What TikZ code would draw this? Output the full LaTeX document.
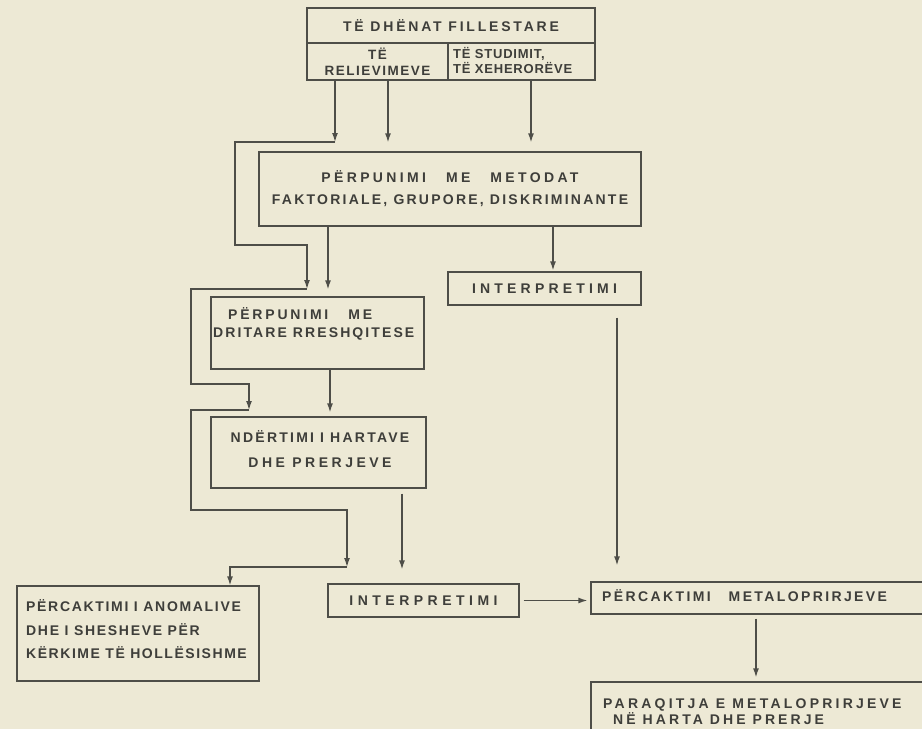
\documentclass[tikz,border=0pt]{standalone}
\usepackage{fontspec}
\newfontfamily\hand{Liberation Sans}
\usetikzlibrary{arrows.meta}
\definecolor{paper}{RGB}{237,233,213}
\definecolor{ink}{RGB}{78,78,72}
\definecolor{txt}{RGB}{62,62,58}
\newcommand\lsp[1]{\addfontfeature{LetterSpace=#1}}
\tikzset{
  box/.style={draw=ink, line width=1.3pt, rectangle, inner sep=0pt, text=txt},
  fs/.style 2 args={font=\hand\bfseries\fontsize{#1}{#2}\selectfont},
  lbl/.style={text=txt, inner sep=0pt},
  ln/.style={draw=ink, line width=1.3pt, line join=miter},
  arr/.style={draw=ink, line width=1.3pt, line join=miter, -{Latex[length=9pt,width=6pt]}},
}
\begin{document}
\begin{tikzpicture}[x=1pt,y=-1pt]
\fill[paper] (0,0) rectangle (922,729);
\useasboundingbox (0,0) rectangle (922,729);

% boxes
\node[box, fs={14}{16}, minimum width=288pt, minimum height=35pt] (title) at (451,25.5) {\lsp{20}TË DHËNAT FILLESTARE};
\node[box, fs={13.5}{16}, minimum width=141pt, minimum height=37pt, align=center] (cellL) at (377.5,61.5) {\lsp{11}TË\\\lsp{11}RELIEVIMEVE};
\node[box, minimum width=147pt, minimum height=37pt] (cellR) at (521.5,61.5) {};
\node[lbl, fs={13}{14.5}, anchor=west, align=left] (cellRT) at (453,60.5) {\lsp{6}TË STUDIMIT,\\\lsp{6}TË XEHERORËVE};

\node[box, fs={14}{22}, minimum width=382pt, minimum height=74pt, align=center] (metodat) at (450,189)
  {\lsp{24}PËRPUNIMI\hspace{20pt}ME\hspace{20pt}METODAT\\\lsp{16}FAKTORIALE, GRUPORE, DISKRIMINANTE};

\node[box, fs={14}{16}, minimum width=193pt, minimum height=33pt] (interp1) at (544.5,288.5) {\lsp{30}INTERPRETIMI};

\node[box, minimum width=213pt, minimum height=72pt] (dritare) at (317.5,333) {};
\node[lbl, fs={14}{18}, anchor=west, align=left] (dritareT) at (213,324) {\hspace*{15pt}\lsp{20}PËRPUNIMI\hspace{20pt}ME\\\lsp{15}DRITARE RRESHQITESE};

\node[box, minimum width=215pt, minimum height=71pt] (ndertimi) at (318.5,452.5) {};
\node[lbl, fs={14}{25}, align=center] (ndertimiT) at (320,449.5) {\lsp{16}NDËRTIMI I HARTAVE\\\lsp{25}DHE PRERJEVE};

\node[box, minimum width=242pt, minimum height=95pt] (anomali) at (138,633.5) {};
\node[lbl, fs={14}{23.5}, anchor=west, align=left] (anomaliT) at (26,629.5) {\lsp{12}PËRCAKTIMI I ANOMALIVE\\\lsp{12}DHE I SHESHEVE PËR\\\lsp{11}KËRKIME TË HOLLËSISHME};

\node[box, fs={14}{16}, minimum width=191pt, minimum height=33pt] (interp2) at (423.5,600.5) {\lsp{32}INTERPRETIMI};

\node[box, minimum width=335pt, minimum height=32pt] (percakt) at (758.5,598) {};
\node[lbl, fs={14}{16}, anchor=west] (percaktT) at (602,596) {\lsp{17}PËRCAKTIMI\hspace{18pt}METALOPRIRJEVE};

\node[box, minimum width=335pt, minimum height=53pt] (paraqit) at (758.5,708.5) {};
\node[lbl, fs={14}{13.5}, anchor=north west, align=left] (paraqitT) at (603,699) {\lsp{23}PARAQITJA E METALOPRIRJEVE\\\hspace*{10pt}\lsp{22}NË HARTA DHE PRERJE};

% chain coordinates on the left
\coordinate (c1) at (335,142);
\coordinate (c2) at (235,142);
\coordinate (c3) at (235,245);
\coordinate (c4) at (307,245);
\coordinate (c5) at (307,289);
\coordinate (c6) at (191,289);
\coordinate (c7) at (191,384);
\coordinate (c8) at (249,384);
\coordinate (c9) at (249,410);
\coordinate (c10) at (191,410);
\coordinate (c11) at (191,510);
\coordinate (c12) at (347,510);
\coordinate (c13) at (347,567);
\coordinate (c14) at (230,567);

\draw[arr] (cellL.south -| c1) -- (c1);
\draw[arr] (c1) -- (c2) -- (c3) -- (c4) -- (c5);
\draw[arr] (c5) -- (c6) -- (c7) -- (c8) -- (c9);
\draw[arr] (c9) -- (c10) -- (c11) -- (c12) -- (c13);
\draw[arr] (c13) -- (c14) -- (anomali.north -| c14);

% other connectors
\coordinate (xa) at (388,0);
\coordinate (xb) at (531,0);
\coordinate (xc) at (328,0);
\coordinate (xd) at (553,0);
\coordinate (xe) at (330,0);
\coordinate (xf) at (402,0);
\coordinate (xg) at (617,0);
\coordinate (xh) at (756,0);

\draw[arr, shorten >=9pt] (cellL.south -| xa) -- (metodat.north -| xa);
\draw[arr, shorten >=9pt] (cellR.south -| xb) -- (metodat.north -| xb);
\draw[arr, shorten >=7pt] (metodat.south -| xc) -- (dritare.north -| xc);
\draw[arr, shorten >=1pt] (metodat.south -| xd) -- (interp1.north -| xd);
\draw[arr, shorten >=4pt] (dritare.south -| xe) -- (ndertimi.north -| xe);
\draw[arr, shorten <=5pt, shorten >=14pt] (ndertimi.south -| xf) -- (interp2.north -| xf);
\draw[arr, shorten <=12pt, shorten >=16pt] (interp1.south -| xg) -- (percakt.north -| xg);
\draw[arr, shorten <=4pt, shorten >=3pt] (interp2.east) -- (interp2.east -| percakt.west);
\draw[arr, shorten <=4pt, shorten >=4pt] (percakt.south -| xh) -- (paraqit.north -| xh);
\end{tikzpicture}
\end{document}
